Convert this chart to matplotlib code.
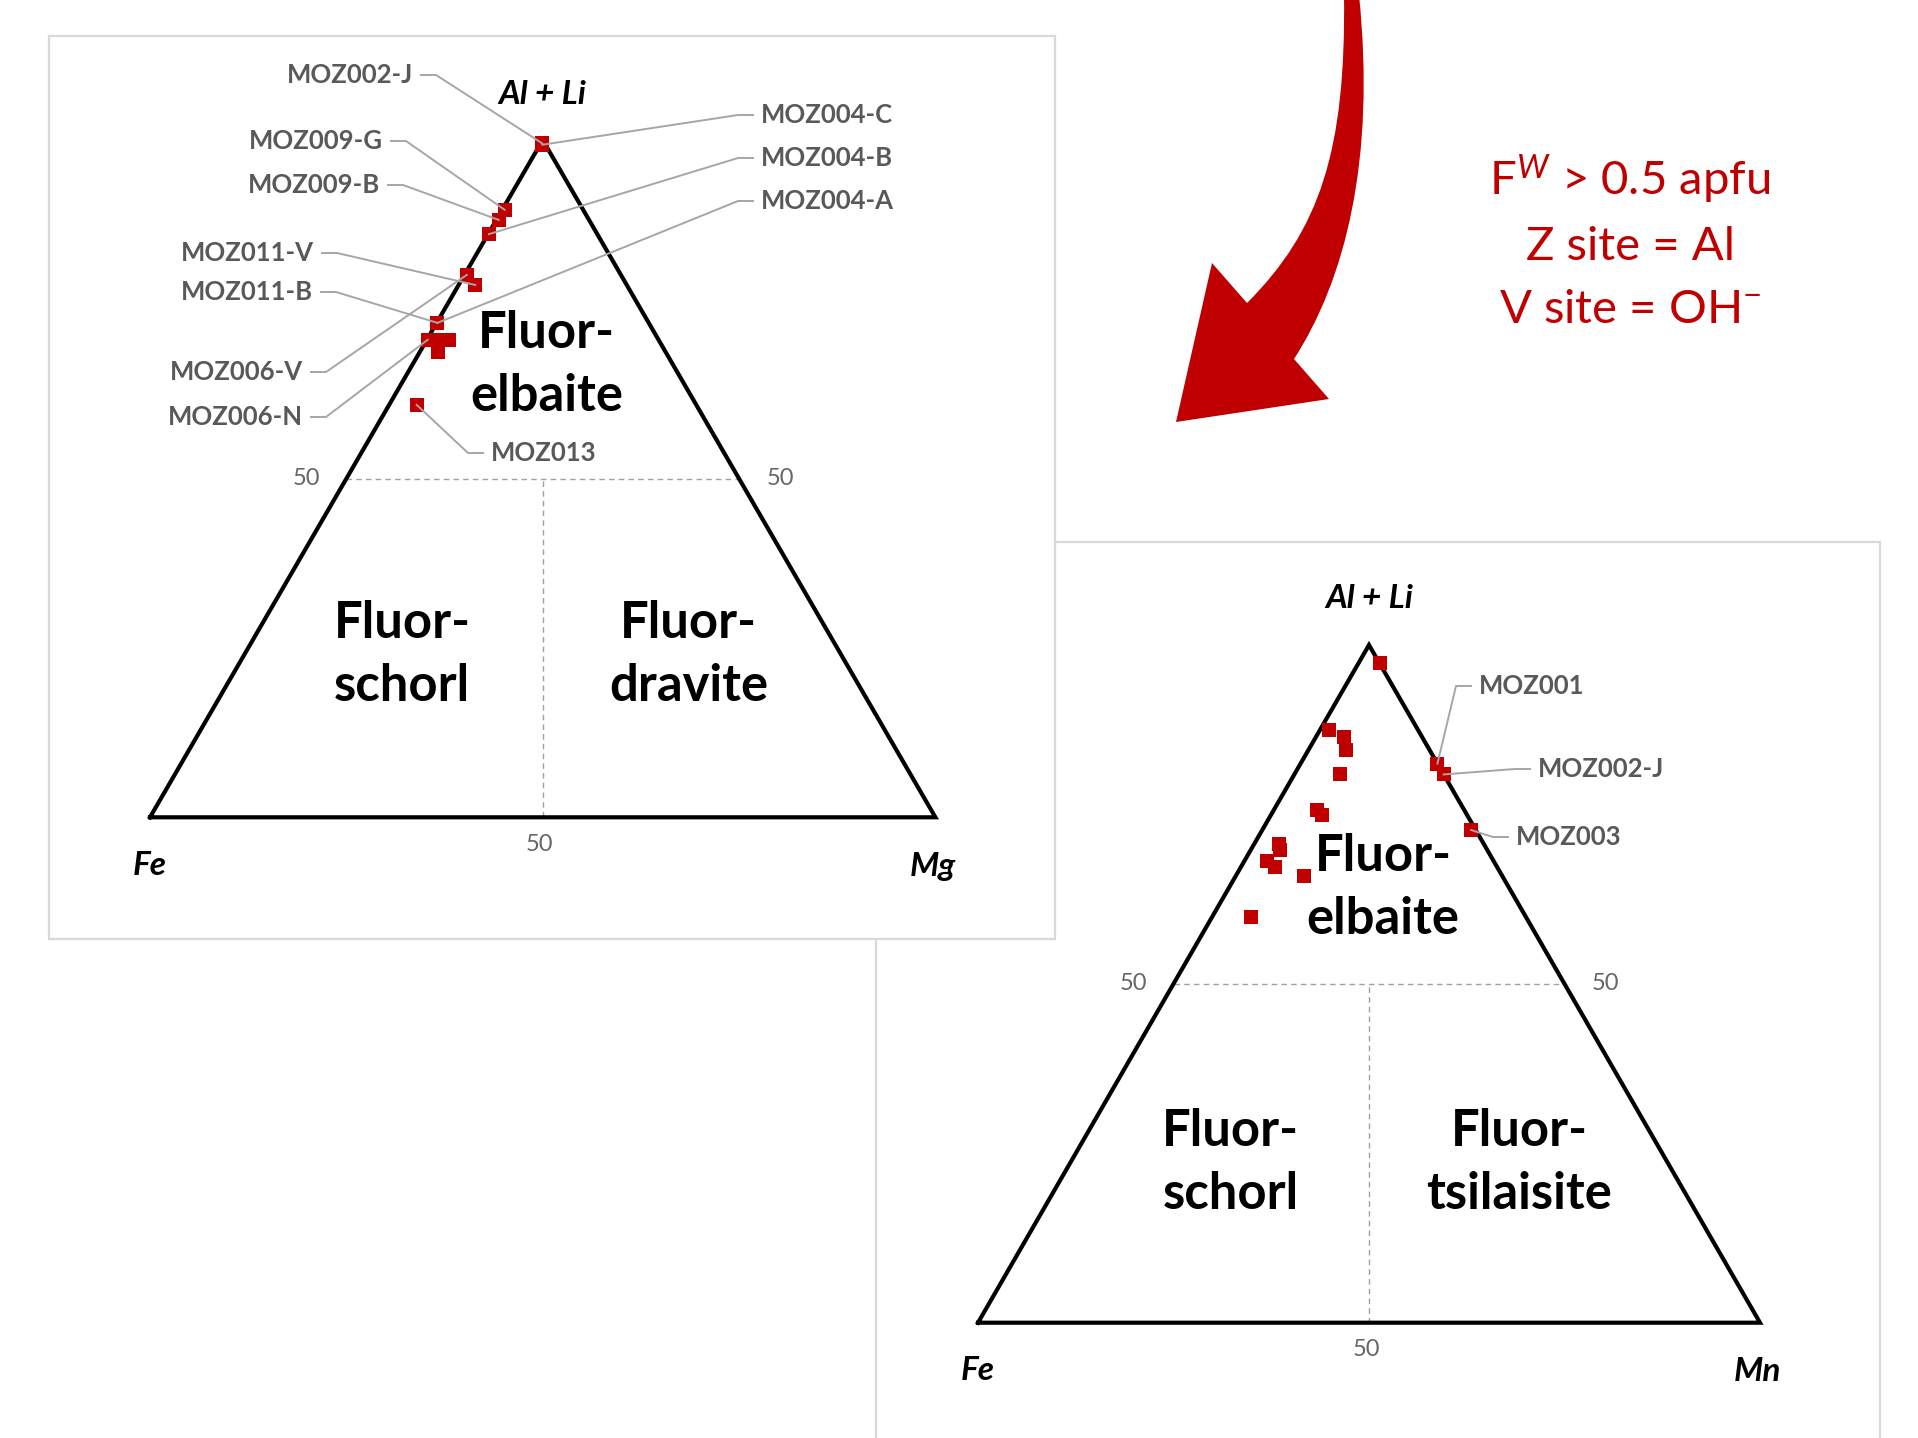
import matplotlib
matplotlib.use("Agg")
import matplotlib.pyplot as plt
from matplotlib.patches import Rectangle, PathPatch
from matplotlib.path import Path
import numpy as np

plt.rcParams['font.family'] = ['Lato', 'DejaVu Sans']
plt.rcParams['mathtext.fontset'] = 'custom'
plt.rcParams['mathtext.rm'] = 'Lato'
plt.rcParams['mathtext.it'] = 'Lato:italic'
plt.rcParams['mathtext.bf'] = 'Lato:bold'

# ---- data: fractions of (Al+Li), Fe, Mg  (Fe-Mg diagram) ----
left_names = ["MOZ002-J", "MOZ004-C", "MOZ009-G", "MOZ009-B", "MOZ004-B",
              "MOZ006-V", "MOZ011-V", "MOZ004-A", "MOZ011-B", "MOZ006-N",
              "", "", "", "MOZ013"]
left_al = [0.995, 0.993, 0.897, 0.882, 0.861, 0.801, 0.786, 0.730, 0.730,
           0.705, 0.705, 0.704, 0.687, 0.609]
left_fe = [0.003, 0.004, 0.100, 0.115, 0.138, 0.196, 0.193, 0.269, 0.269,
           0.294, 0.280, 0.267, 0.290, 0.356]
left_mg = [0.002, 0.003, 0.003, 0.003, 0.001, 0.003, 0.021, 0.001, 0.001,
           0.001, 0.015, 0.029, 0.023, 0.035]

# ---- data: fractions of (Al+Li), Fe, Mn  (Fe-Mn diagram) ----
right_names = ["", "", "", "", "", "", "", "", "", "", "", "", "",
               "MOZ001", "MOZ002-J", "MOZ003"]
right_al = [0.973, 0.874, 0.864, 0.845, 0.809, 0.756, 0.749, 0.707, 0.698,
            0.682, 0.673, 0.659, 0.599, 0.825, 0.809, 0.727]
right_fe = [0.000, 0.114, 0.100, 0.107, 0.133, 0.189, 0.186, 0.262, 0.265,
            0.289, 0.284, 0.253, 0.352, 0.000, 0.000, 0.006]
right_mn = [0.027, 0.012, 0.036, 0.048, 0.058, 0.055, 0.065, 0.031, 0.037,
            0.029, 0.043, 0.088, 0.049, 0.175, 0.191, 0.267]

W_PX, H_PX = 1918, 1438
RED = '#C00000'
GREY_TXT = '#595959'
LEADER = '#A6A6A6'

fig = plt.figure(figsize=(W_PX / 100, H_PX / 100), dpi=100)
fig.patch.set_facecolor('white')

# background canvas in pixel units (y down)
bg = fig.add_axes([0, 0, 1, 1])
bg.set_xlim(0, W_PX)
bg.set_ylim(H_PX, 0)
bg.axis('off')

# panel frames: right one behind, left one on top with white fill
bg.add_patch(Rectangle((876, 542), 1004, 950, fc='white', ec='#D9D9D9', lw=1.6, zorder=1))
bg.add_patch(Rectangle((49, 36), 1006, 903, fc='white', ec='#D9D9D9', lw=1.6, zorder=2))

# curved red arrow
verts = [(1344, -5), (1346, 150), (1320, 230), (1247, 303),
         (1212, 263), (1176, 422), (1329, 399), (1294, 359),
         (1345, 280), (1376, 160), (1359, -5), (1344, -5)]
codes = [Path.MOVETO, Path.CURVE4, Path.CURVE4, Path.CURVE4,
         Path.LINETO, Path.LINETO, Path.LINETO, Path.LINETO,
         Path.CURVE4, Path.CURVE4, Path.CURVE4, Path.CLOSEPOLY]
bg.add_patch(PathPatch(Path(verts, codes), fc=RED, ec='none', zorder=3))

# red conditions text
red_lines = [r'F$^{\mathit{W}}$ > 0.5 apfu', 'Z site = Al', r'V site = OH$^{-}$']
for txt, yb in zip(red_lines, [195, 260, 323]):
    bg.text(1630, yb, txt, color=RED, fontsize=34, ha='center', va='baseline', zorder=4)


def tern_xy(al, m):
    al = np.asarray(al)
    m = np.asarray(m)
    return m + al / 2.0, al


def px_to_data(ax, px, py):
    return ax.transData.inverted().transform((px, H_PX - py))


def make_triangle(box, right_name, fields, labels, names, al, fe, other):
    x0, y0, x1, y1 = box
    ax = fig.add_axes([x0 / W_PX, (H_PX - y1) / H_PX, (x1 - x0) / W_PX, (y1 - y0) / H_PX])
    ax.set_xlim(0, 1)
    ax.set_ylim(0, 1)
    ax.axis('off')
    ax.patch.set_alpha(0)

    ax.plot([0, 1, 0.5, 0], [0, 0, 1, 0], color='black', lw=3.0,
            solid_joinstyle='miter', clip_on=False, zorder=2)
    ax.plot([0.25, 0.75], [0.5, 0.5], color='#A0A0A0', lw=1.0, ls=(0, (4, 3)), zorder=1)
    ax.plot([0.5, 0.5], [0, 0.5], color='#A0A0A0', lw=1.0, ls=(0, (4, 3)), zorder=1)

    tk = dict(fontsize=17, color='#666666', ha='center', va='center',
              textcoords='offset pixels', annotation_clip=False)
    ax.annotate('50', xy=(0.25, 0.5), xytext=(-40, 0), **tk)
    ax.annotate('50', xy=(0.75, 0.5), xytext=(41, 0), **tk)
    ax.annotate('50', xy=(0.5, 0), xytext=(-3, -27), **tk)

    vk = dict(fontsize=24, fontweight='bold', fontstyle='italic', ha='center', va='center',
              textcoords='offset pixels', annotation_clip=False)
    ax.annotate('Al + Li', xy=(0.5, 1), xytext=(0, 46), **vk)
    ax.annotate('Fe', xy=(0, 0), xytext=(0, -48), **vk)
    ax.annotate(right_name, xy=(1, 0), xytext=(-3, -49), **vk)

    for txt, fx, fy in fields:
        ax.text(fx, fy, txt, fontsize=36.5, fontweight='bold', ha='center', va='center',
                linespacing=1.42, zorder=2)

    px, py = tern_xy(al, other)
    ax.plot(px, py, 's', color=RED, ms=10.5, mec=RED, mew=0, ls='none',
            clip_on=False, zorder=3)

    for name, xp, yp in zip(names, px, py):
        if name not in labels:
            continue
        tx, ty, ha = labels[name]
        sgn = 1 if ha == 'right' else -1
        s0 = px_to_data(ax, tx + sgn * 8, ty)
        s1 = px_to_data(ax, tx + sgn * 23, ty)
        ax.plot([s0[0], s1[0], xp], [s0[1], s1[1], yp], color=LEADER, lw=1.4,
                clip_on=False, zorder=4)
        lp = px_to_data(ax, tx, ty)
        ax.text(lp[0], lp[1], name, fontsize=18.5, fontweight='bold', color=GREY_TXT,
                ha=ha, va='center', clip_on=False)
    return ax


left_labels = {
    "MOZ002-J": (413, 75, 'right'), "MOZ004-C": (761, 115, 'left'),
    "MOZ009-G": (383, 141, 'right'), "MOZ009-B": (380, 185, 'right'),
    "MOZ004-B": (761, 158, 'left'), "MOZ004-A": (761, 201, 'left'),
    "MOZ011-V": (314, 253, 'right'), "MOZ011-B": (313, 292, 'right'),
    "MOZ006-V": (303, 372, 'right'), "MOZ006-N": (303, 417, 'right'),
    "MOZ013": (491, 453, 'left'),
}
right_labels = {
    "MOZ001": (1479, 686, 'left'), "MOZ002-J": (1538, 769, 'left'),
    "MOZ003": (1516, 837, 'left'),
}

make_triangle((150, 140, 935.4, 817.3), 'Mg',
              [('Fluor-\nelbaite', 0.505, 0.668), ('Fluor-\nschorl', 0.321, 0.239),
               ('Fluor-\ndravite', 0.686, 0.239)],
              left_labels, left_names, left_al, left_fe, left_mg)

make_triangle((978, 645, 1760, 1322.7), 'Mn',
              [('Fluor-\nelbaite', 0.518, 0.641), ('Fluor-\nschorl', 0.323, 0.235),
               ('Fluor-\ntsilaisite', 0.692, 0.235)],
              right_labels, right_names, right_al, right_fe, right_mn)

fig.savefig('out.png', dpi=100)
